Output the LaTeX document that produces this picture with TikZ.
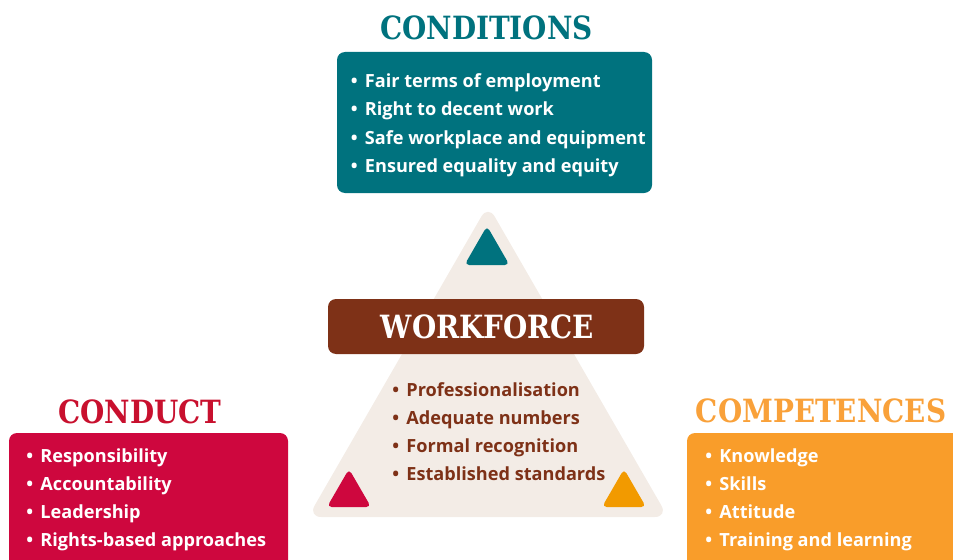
\documentclass[tikz,border=0pt]{standalone}
\usepackage{fontspec}
\setmainfont{Open Sans}
\newfontfamily\slab{DejaVu Serif}[FakeStretch=0.87]
\usepackage{tikz}
\usetikzlibrary{positioning}

\definecolor{condcol}{HTML}{00727E}
\definecolor{workcol}{HTML}{7E3117}
\definecolor{ductcol}{HTML}{CE073E}
\definecolor{ducttitle}{HTML}{C8102E}
\definecolor{compcol}{HTML}{F99D2A}
\definecolor{comptitle}{HTML}{F9A13A}
\definecolor{comptri}{HTML}{F29A00}
\definecolor{bgcol}{HTML}{F3ECE6}

\begin{document}
\begin{tikzpicture}[x=0.75pt,y=-0.75pt,
        title/.style={font=\slab\bfseries\fontsize{24}{28}\selectfont,anchor=base,inner sep=0pt},
        item/.style={font=\bfseries\fontsize{13.6}{17}\selectfont,anchor=base west,inner sep=0pt},
        box/.style={rounded corners=6pt},
        tri/.style={rounded corners=3.5pt}]

        \useasboundingbox (0,0) rectangle (953,560);
        \clip (0,0) rectangle (953,560);

        % background triangle
        \fill[bgcol, rounded corners=10pt] (488,205) -- (668,517) -- (308,517) -- cycle;
        \fill[condcol, tri] (487,226) -- (509.5,265) -- (464.5,265) -- cycle;
        \fill[ductcol, tri] (349,469) -- (371,507) -- (327,507) -- cycle;
        \fill[comptri, tri] (624,469) -- (646,507) -- (602,507) -- cycle;

        % conditions
        \node[title, text=condcol] (condtitle) at (486.5,40) {CONDITIONS};
        \fill[condcol, box] (337,52) rectangle (652,193);
        \foreach \t [count=\i] in {Fair terms of employment, Right to decent work,
                Safe workplace and equipment, Ensured equality and equity}
            \node[item, text=white] (cond\i) at (350.5,60+28*\i) {•\kern2pt{} \t};

        % workforce
        \fill[workcol, box] (328,299) rectangle (644,354);
        \node[title, text=white] (worktitle) at (487.5,338) {WORKFORCE};
        \foreach \t [count=\i] in {Professionalisation, Adequate numbers,
                Formal recognition, Established standards}
            \node[item, text=workcol] (work\i) at (392,367.7+28.3*\i) {•\kern2pt{} \t};

        % conduct
        \node[title, text=ducttitle] (ducttitle) at (140,423) {CONDUCT};
        \fill[ductcol, box] (9,433) rectangle (288,590);
        \foreach \t [count=\i] in {Responsibility, Accountability,
                Leadership, Rights-based approaches}
            \node[item, text=white] (duct\i) at (26,434+28*\i) {•\kern2pt{} \t};

        % competences
        \node[title, text=comptitle] (comptitle) at (821,422) {COMPETENCES};
        \fill[compcol, box] (687,433) rectangle (970,590);
        \foreach \t [count=\i] in {Knowledge, Skills,
                Attitude, Training and learning}
            \node[item, text=white] (comp\i) at (705,434+28*\i) {•\kern2pt{} \t};
\end{tikzpicture}
\end{document}
